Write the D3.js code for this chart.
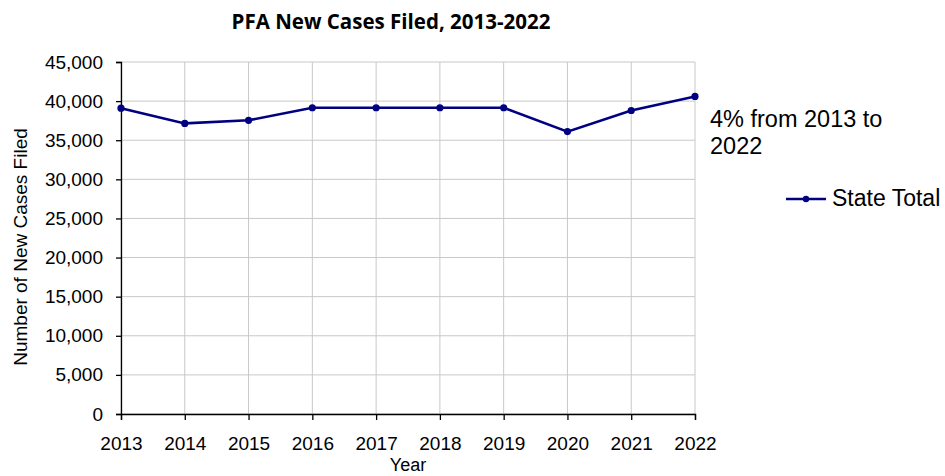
<!DOCTYPE html>
<html>
<head>
<meta charset="utf-8">
<script src="https://cdn.jsdelivr.net/npm/d3@7"></script>
<style>
  body { margin: 0; background: #fff; }
  svg { display: block; font-family: "Liberation Sans", Arial, sans-serif; }
</style>
</head>
<body>
<svg id="chart" width="945" height="476"></svg>
<script>
// chart data
const years = [2013, 2014, 2015, 2016, 2017, 2018, 2019, 2020, 2021, 2022];
const stateTotal = [39100, 37150, 37550, 39150, 39150, 39150, 39150, 36100, 38800, 40600];
const yTicks = [0, 5000, 10000, 15000, 20000, 25000, 30000, 35000, 40000, 45000];
const seriesName = 'State Total';
const note = ['4% from 2013 to', '2022'];

const svg = d3.select('#chart');
const plotL = 121, plotR = 695, plotT = 62, plotB = 414;
const navy = '#000080';

const x = d3.scaleLinear().domain([2013, 2022]).range([plotL, plotR]);
const y = d3.scaleLinear().domain([0, 45000]).range([plotB, plotT]);

// grid lines
svg.append('g')
  .selectAll('line')
  .data(yTicks)
  .join('line')
  .attr('x1', plotL).attr('x2', plotR)
  .attr('y1', d => y(d)).attr('y2', d => y(d))
  .attr('stroke', '#c8c8c8').attr('stroke-width', 1);

svg.append('g')
  .selectAll('line')
  .data(years)
  .join('line')
  .attr('x1', d => x(d)).attr('x2', d => x(d))
  .attr('y1', plotT).attr('y2', plotB)
  .attr('stroke', '#c8c8c8').attr('stroke-width', 1);

// axes
const yAxis = svg.append('g')
  .attr('transform', `translate(${plotL},0)`)
  .call(d3.axisLeft(y).tickValues(yTicks).tickFormat(d3.format(',')).tickSize(5).tickPadding(13));
const xAxis = svg.append('g')
  .attr('transform', `translate(0,${plotB})`)
  .call(d3.axisBottom(x).tickValues(years).tickFormat(d3.format('d')).tickSize(6).tickPadding(17));

[yAxis, xAxis].forEach(a => {
  a.select('.domain').attr('stroke', '#000').attr('stroke-width', 1.3);
  a.selectAll('.tick line').attr('stroke', '#000').attr('stroke-width', 1.3);
  a.selectAll('.tick text')
    .attr('fill', '#000')
    .style('font-size', '19px')
    .style('font-family', '"Liberation Sans", Arial, sans-serif');
});

// series line + markers
const line = d3.line().x((d, i) => x(years[i])).y(d => y(d));
svg.append('path')
  .datum(stateTotal)
  .attr('d', line)
  .attr('fill', 'none')
  .attr('stroke', navy)
  .attr('stroke-width', 2.6);

svg.append('g')
  .selectAll('circle')
  .data(stateTotal)
  .join('circle')
  .attr('cx', (d, i) => x(years[i]))
  .attr('cy', d => y(d))
  .attr('r', 3.6)
  .attr('fill', navy);

// titles
svg.append('text')
  .attr('x', 391).attr('y', 29)
  .attr('text-anchor', 'middle')
  .style('font-family', '"Open Sans", sans-serif')
  .style('font-weight', 'bold')
  .style('font-size', '20.5px')
  .text('PFA New Cases Filed, 2013-2022');

svg.append('text')
  .attr('x', (plotL + plotR) / 2).attr('y', 471)
  .attr('text-anchor', 'middle')
  .style('font-size', '18px')
  .text('Year');

svg.append('text')
  .attr('transform', 'translate(27,247) rotate(-90)')
  .attr('text-anchor', 'middle')
  .style('font-size', '19px')
  .text('Number of New Cases Filed');

// annotation
svg.append('g')
  .selectAll('text')
  .data(note)
  .join('text')
  .attr('x', 710)
  .attr('y', (d, i) => 127 + i * 26.5)
  .style('font-size', '23.5px')
  .text(d => d);

// legend
const lg = svg.append('g').attr('transform', 'translate(786,199)');
lg.append('line').attr('x1', 0).attr('x2', 40).attr('y1', 0).attr('y2', 0)
  .attr('stroke', navy).attr('stroke-width', 2.6);
lg.append('circle').attr('cx', 20).attr('cy', 0).attr('r', 3.2).attr('fill', navy);
lg.append('text').attr('x', 46).attr('y', 7)
  .style('font-size', '23px')
  .text(seriesName);
</script>
</body>
</html>
